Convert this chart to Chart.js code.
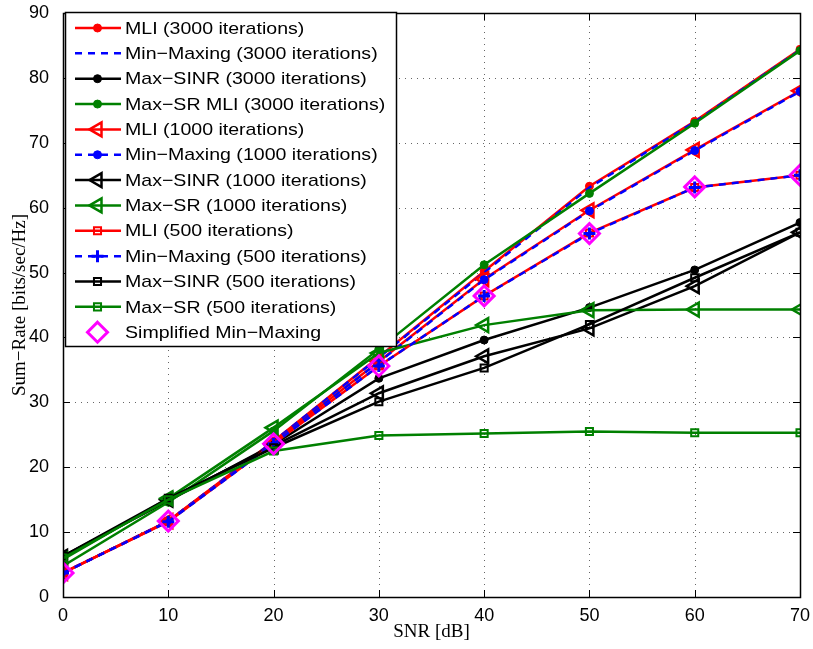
<!DOCTYPE html>
<html>
<head>
<meta charset="utf-8">
<script src="https://cdn.jsdelivr.net/npm/chart.js@4/dist/chart.umd.min.js"></script>
<style>
  html, body { margin: 0; padding: 0; background: #fff; }
  #wrap { width: 813px; height: 649px; }
</style>
</head>
<body>
<div id="wrap"><canvas id="myChart" width="813" height="649"></canvas></div>
<script>
// SNR points (dB) and tick values
var snr = [0, 10, 20, 30, 40, 50, 60, 70];
var xTicks = [0, 10, 20, 30, 40, 50, 60, 70];
var yTicks = [0, 10, 20, 30, 40, 50, 60, 70, 80, 90];

// sum-rate per algorithm, bits/sec/Hz
var mli3000      = [3.7, 11.7, 24.0, 37.0, 50.2, 63.3, 73.3, 84.4];
var minMax3000   = [3.7, 11.7, 24.0, 36.9, 50.0, 63.1, 73.2, 84.3];
var maxSinr3000  = [6.3, 14.8, 23.5, 33.7, 39.6, 44.6, 50.4, 57.7];
var maxSrMli3000 = [4.8, 14.6, 25.6, 38.2, 51.2, 62.2, 73.0, 84.2];
var mli1000      = [3.7, 11.7, 23.8, 36.3, 49.0, 59.6, 68.9, 78.0];
var minMax1000   = [3.7, 11.7, 23.8, 36.2, 48.9, 59.5, 68.8, 77.9];
var maxSinr1000  = [6.2, 15.0, 23.3, 31.4, 37.1, 41.4, 47.9, 56.2];
var maxSr1000    = [5.8, 15.2, 26.1, 37.6, 41.9, 44.2, 44.3, 44.3];
var mli500       = [3.7, 11.6, 23.6, 35.6, 46.4, 56.1, 63.1, 65.0];
var minMax500    = [3.7, 11.6, 23.6, 35.6, 46.4, 56.0, 63.1, 65.0];
var maxSinr500   = [6.3, 15.2, 23.0, 30.1, 35.3, 42.0, 49.2, 56.2];
var maxSr500     = [6.0, 15.0, 22.5, 24.9, 25.2, 25.5, 25.3, 25.3];
var simplified   = [3.7, 11.7, 23.6, 35.6, 46.4, 56.0, 63.2, 65.0];

var RED = '#ff0000', BLUE = '#0000ff', BLACK = '#000000', GREEN = '#008000', MAGENTA = '#ff00ff';
var CLEAR = 'rgba(0,0,0,0)';

// marker presets
var DOT = { style: 'circle', radius: 4, fill: true, width: 1 };
var TRI = { style: 'triangle', radius: 8, rotation: -90, fill: false, width: 2.5 };
var SQR = { style: 'rect', radius: 5, fill: false, width: 2 };
var PLUS = { style: 'cross', radius: 6, fill: false, width: 3 };
var DIAM = { style: 'rectRot', radius: 10, fill: false, width: 3 };
var NONE = { style: 'circle', radius: 0, fill: false, width: 0 };

function series(label, values, color, dashed, marker, noLine) {
  return {
    label: label,
    data: snr.map(function (x, i) { return { x: x, y: values[i] }; }),
    borderColor: color,
    borderWidth: 2.5,
    borderDash: dashed ? [7, 6] : [],
    showLine: !noLine,
    fill: false,
    tension: 0,
    pointStyle: marker.style,
    pointRotation: marker.rotation || 0,
    pointRadius: marker.radius,
    pointBorderWidth: marker.width,
    pointBorderColor: color,
    pointBackgroundColor: marker.fill ? color : CLEAR,
    marker: marker
  };
}

var datasets = [
  series('MLI (3000 iterations)', mli3000, RED, false, DOT),
  series('Min\u2212Maxing (3000 iterations)', minMax3000, BLUE, true, NONE),
  series('Max\u2212SINR (3000 iterations)', maxSinr3000, BLACK, false, DOT),
  series('Max\u2212SR MLI (3000 iterations)', maxSrMli3000, GREEN, false, DOT),
  series('MLI (1000 iterations)', mli1000, RED, false, TRI),
  series('Min\u2212Maxing (1000 iterations)', minMax1000, BLUE, true, DOT),
  series('Max\u2212SINR (1000 iterations)', maxSinr1000, BLACK, false, TRI),
  series('Max\u2212SR (1000 iterations)', maxSr1000, GREEN, false, TRI),
  series('MLI (500 iterations)', mli500, RED, false, SQR),
  series('Min\u2212Maxing (500 iterations)', minMax500, BLUE, true, PLUS),
  series('Max\u2212SINR (500 iterations)', maxSinr500, BLACK, false, SQR),
  series('Max\u2212SR (500 iterations)', maxSr500, GREEN, false, SQR),
  series('Simplified Min\u2212Maxing', simplified, MAGENTA, false, DIAM, true)
];
// later series are painted over earlier ones
datasets.forEach(function (d, i) { d.order = datasets.length - i; });

// small marker painter for the legend
function drawMarker(ctx, m, color, x, y) {
  if (!m.radius) return;
  var r = m.radius;
  ctx.save();
  ctx.translate(x, y);
  ctx.rotate((m.rotation || 0) * Math.PI / 180);
  ctx.setLineDash([]);
  ctx.lineWidth = m.width;
  ctx.strokeStyle = color;
  ctx.fillStyle = color;
  ctx.beginPath();
  if (m.style === 'circle') {
    ctx.arc(0, 0, r, 0, Math.PI * 2);
  } else if (m.style === 'triangle') {
    ctx.moveTo(0, -r);
    ctx.lineTo(r * 0.866, r * 0.5);
    ctx.lineTo(-r * 0.866, r * 0.5);
    ctx.closePath();
  } else if (m.style === 'rect') {
    var s = r / Math.SQRT2;
    ctx.rect(-s, -s, 2 * s, 2 * s);
  } else if (m.style === 'rectRot') {
    ctx.moveTo(0, -r); ctx.lineTo(r, 0); ctx.lineTo(0, r); ctx.lineTo(-r, 0);
    ctx.closePath();
  } else if (m.style === 'cross') {
    ctx.moveTo(0, -r); ctx.lineTo(0, r);
    ctx.moveTo(-r, 0); ctx.lineTo(r, 0);
  }
  if (m.fill) ctx.fill();
  ctx.stroke();
  ctx.restore();
}

var framePlugin = {
  id: 'frame',
  beforeDatasetsDraw: function (chart) {
    var ctx = chart.ctx, a = chart.chartArea;
    var xs = chart.scales.x, ys = chart.scales.y;
    ctx.save();
    ctx.strokeStyle = '#666';
    ctx.lineWidth = 1;
    ctx.setLineDash([1, 5]);
    xTicks.forEach(function (v) {
      var px = Math.round(xs.getPixelForValue(v)) + 0.5;
      ctx.beginPath(); ctx.moveTo(px, a.bottom); ctx.lineTo(px, a.top); ctx.stroke();
    });
    yTicks.forEach(function (v) {
      var py = Math.round(ys.getPixelForValue(v)) + 0.5;
      ctx.beginPath(); ctx.moveTo(a.left, py); ctx.lineTo(a.right, py); ctx.stroke();
    });
    ctx.restore();
  },
  afterDraw: function (chart) {
    var ctx = chart.ctx, a = chart.chartArea;
    var xs = chart.scales.x, ys = chart.scales.y;
    ctx.save();
    ctx.setLineDash([]);
    ctx.strokeStyle = '#000';
    ctx.lineWidth = 1;

    // inward tick marks on all four sides
    var tk = 7;
    ctx.beginPath();
    xTicks.forEach(function (v) {
      var px = Math.round(xs.getPixelForValue(v)) + 0.5;
      ctx.moveTo(px, a.bottom); ctx.lineTo(px, a.bottom - tk);
      ctx.moveTo(px, a.top); ctx.lineTo(px, a.top + tk);
    });
    yTicks.forEach(function (v) {
      var py = Math.round(ys.getPixelForValue(v)) + 0.5;
      ctx.moveTo(a.left, py); ctx.lineTo(a.left + tk, py);
      ctx.moveTo(a.right, py); ctx.lineTo(a.right - tk, py);
    });
    ctx.stroke();

    ctx.lineWidth = 1.5;
    ctx.strokeRect(Math.round(a.left) + 0.5, Math.round(a.top) + 0.5,
      Math.round(a.right - a.left), Math.round(a.bottom - a.top));

    // axis titles
    ctx.fillStyle = '#000';
    ctx.font = '19px "Liberation Serif", "DejaVu Serif", serif';
    ctx.textAlign = 'center';
    ctx.textBaseline = 'middle';
    ctx.fillText('SNR [dB]', (a.left + a.right) / 2, 632);
    ctx.save();
    ctx.translate(20, (a.top + a.bottom) / 2);
    ctx.rotate(-Math.PI / 2);
    ctx.fillText('Sum\u2212Rate [bits/sec/Hz]', 0, 0);
    ctx.restore();

    // legend box inside the plot
    var bx = 65, by = 12, bw = 331, bh = 334, row = 25.35, y0 = 28;
    ctx.fillStyle = '#fff';
    ctx.fillRect(bx, by, bw, bh);
    ctx.lineWidth = 1.5;
    ctx.strokeStyle = '#000';
    ctx.strokeRect(bx + 0.5, by + 0.5, bw, bh);

    chart.data.datasets.forEach(function (d, i) {
      var y = y0 + i * row;
      if (d.showLine) {
        ctx.save();
        ctx.strokeStyle = d.borderColor;
        ctx.lineWidth = d.borderWidth;
        ctx.setLineDash(d.borderDash);
        ctx.beginPath(); ctx.moveTo(75, y); ctx.lineTo(121, y); ctx.stroke();
        ctx.restore();
      }
      drawMarker(ctx, d.marker, d.borderColor, 97.5, y);
      ctx.save();
      ctx.fillStyle = '#000';
      ctx.font = '17px "Liberation Sans", Arial, sans-serif';
      ctx.textAlign = 'left';
      ctx.textBaseline = 'middle';
      ctx.translate(125, y + 1);
      ctx.scale(1.15, 1);
      ctx.fillText(d.label, 0, 0);
      ctx.restore();
    });
    ctx.restore();
  }
};

function noEdgePadding(scale) {
  scale.paddingLeft = 0;
  scale.paddingRight = 0;
  scale.paddingTop = 0;
  scale.paddingBottom = 0;
}

var ctx = document.getElementById('myChart').getContext('2d');

var myChart = new Chart(ctx, {
  type: 'line',
  data: { datasets: datasets },
  options: {
    responsive: false,
    animation: false,
    devicePixelRatio: 1,
    layout: { padding: { left: 0, right: 13, top: 10, bottom: 0 } },
    plugins: { legend: { display: false }, tooltip: { enabled: false } },
    scales: {
      x: {
        type: 'linear',
        min: 0,
        max: 70,
        afterFit: function (scale) { scale.height = 52; noEdgePadding(scale); },
        afterBuildTicks: function (scale) { scale.ticks = xTicks.map(function (v) { return { value: v }; }); },
        grid: { display: false },
        border: { display: false },
        ticks: {
          padding: 0,
          color: '#000',
          font: { family: '"Liberation Sans", Arial, sans-serif', size: 18 },
          maxRotation: 0
        }
      },
      y: {
        type: 'linear',
        min: 0,
        max: 90,
        afterFit: function (scale) { scale.width = 63; noEdgePadding(scale); },
        afterBuildTicks: function (scale) { scale.ticks = yTicks.map(function (v) { return { value: v }; }); },
        grid: { display: false },
        border: { display: false },
        ticks: {
          padding: 6,
          color: '#000',
          font: { family: '"Liberation Sans", Arial, sans-serif', size: 18 }
        }
      }
    }
  },
  plugins: [framePlugin]
});
</script>
</body>
</html>
